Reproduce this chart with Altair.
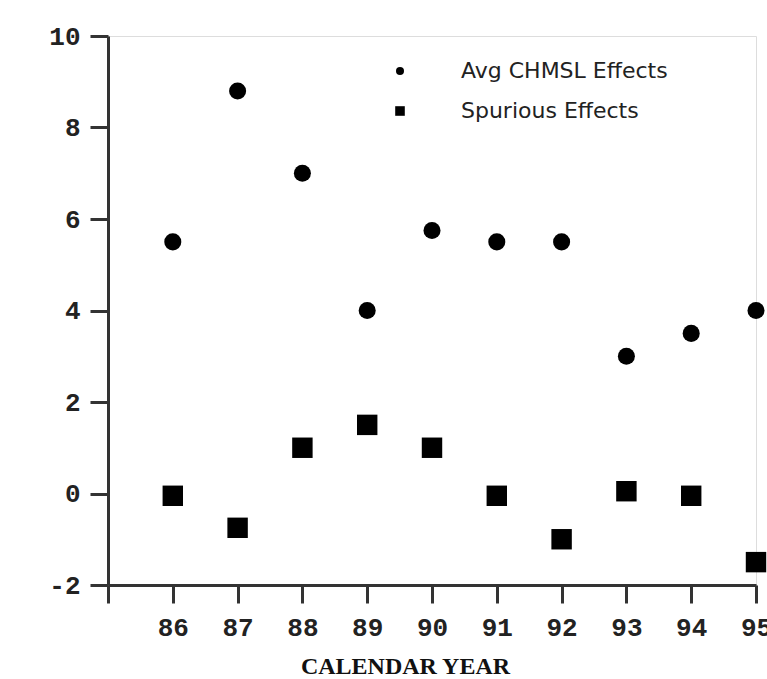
import altair as alt
import pandas as pd

# Calendar years (19xx) and the two effect series
years = [86, 87, 88, 89, 90, 91, 92, 93, 94, 95]
chmsl_effects = [5.5, 8.8, 7.0, 4.0, 5.75, 5.5, 5.5, 3.0, 3.5, 4.0]
spurious_effects = [-0.05, -0.75, 1.0, 1.5, 1.0, -0.05, -1.0, 0.05, -0.05, -1.5]

series_names = ["Avg CHMSL Effects", "Spurious Effects"]
x_ticks = list(range(85, 96))
y_ticks = [-2, 0, 2, 4, 6, 8, 10]

rows = []
for yr, c, s in zip(years, chmsl_effects, spurious_effects):
    rows.append({"year": yr, "value": c, "series": series_names[0]})
    rows.append({"year": yr, "value": s, "series": series_names[1]})
df = pd.DataFrame(rows)

axis_color = "#333333"
tick_font = "Liberation Mono"
# square drawn slightly larger than the circle at the same symbol size
big_square = "M-1.2,-1.2H1.2V1.2H-1.2Z"

chart = (
    alt.Chart(df)
    .mark_point(filled=True, opacity=1, color="black", size=290)
    .encode(
        x=alt.X(
            "year:Q",
            scale=alt.Scale(domain=[85, 95], nice=False, zero=False),
            axis=alt.Axis(
                values=x_ticks,
                format="d",
                labelExpr="datum.value == 85 ? '' : datum.label",
                title="CALENDAR YEAR",
                titleFont="Liberation Serif",
                titleFontSize=24,
                titleFontWeight="bold",
                titleColor="#111111",
                titleX=297,
                titleY=88,
                titleBaseline="alphabetic",
                labelFont=tick_font,
                labelFontSize=26,
                labelFontWeight="bold",
                labelColor="#222222",
                labelPadding=11,
                labelFlush=False,
                tickSize=18,
                tickWidth=3,
                tickColor=axis_color,
                domainWidth=3,
                domainColor=axis_color,
                grid=False,
            ),
        ),
        y=alt.Y(
            "value:Q",
            scale=alt.Scale(domain=[-2, 10], nice=False, zero=False),
            axis=alt.Axis(
                values=y_ticks,
                title=None,
                labelExpr="datum.value < 0 ? '-' + abs(datum.value) : datum.label",
                labelFont=tick_font,
                labelFontSize=26,
                labelFontWeight="bold",
                labelColor="#222222",
                labelPadding=10,
                labelFlush=False,
                tickSize=18,
                tickWidth=3,
                tickColor=axis_color,
                domainWidth=3,
                domainColor=axis_color,
                grid=False,
            ),
        ),
        shape=alt.Shape(
            "series:N",
            scale=alt.Scale(domain=series_names, range=["circle", big_square]),
            legend=alt.Legend(
                title=None,
                orient="none",
                legendX=281,
                legendY=24,
                symbolSize=64,
                symbolFillColor="black",
                symbolStrokeColor="black",
                symbolStrokeWidth=0,
                labelFont="DejaVu Sans",
                labelFontSize=22,
                labelColor="#222222",
                labelOffset=50,
                labelLimit=0,
                rowPadding=18,
            ),
        ),
    )
    .properties(
        width=648,
        height=549,
        autosize=alt.AutoSizeParams(type="none"),
        padding={"left": 108, "top": 36, "right": 11, "bottom": 94},
    )
    .configure_view(stroke="transparent", strokeWidth=0, strokeOpacity=0)
    .configure_axis(grid=False, gridOpacity=0)
    .configure(background="white")
)

chart.save("out.html", embed_options={"renderer": "svg", "actions": False})
